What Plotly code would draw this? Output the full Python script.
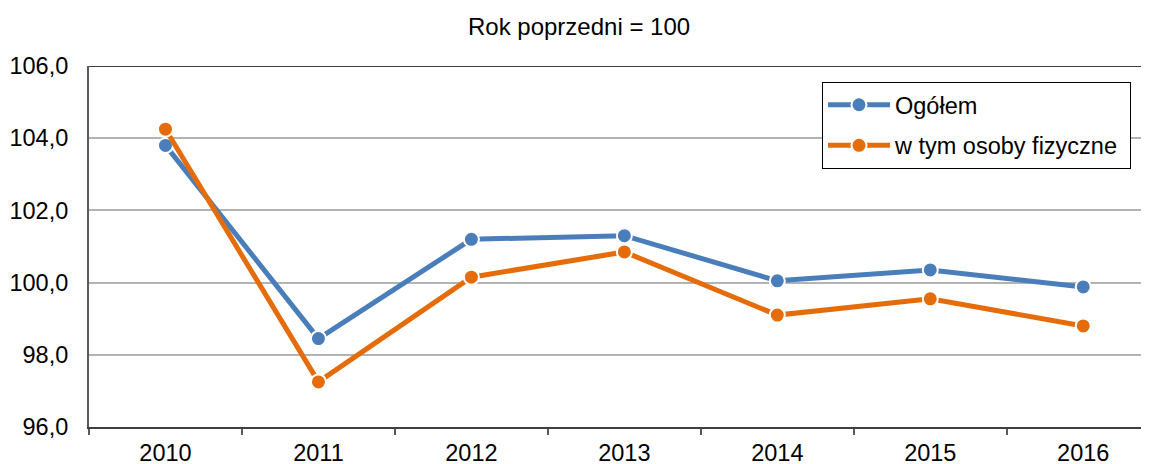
import plotly.graph_objects as go

years = ["2010", "2011", "2012", "2013", "2014", "2015", "2016"]
ogolem = [103.8, 98.45, 101.2, 101.3, 100.05, 100.35, 99.88]
osoby_fizyczne = [104.25, 97.25, 100.15, 100.85, 99.1, 99.55, 98.8]
y_ticks = [96, 98, 100, 102, 104, 106]
y_labels = ["96,0", "98,0", "100,0", "102,0", "104,0", "106,0"]
series_names = ["Ogółem", "w tym osoby fizyczne"]

FONT = "Liberation Sans, Arial, sans-serif"
BLUE = "#4a7ebb"
ORANGE = "#e46c0a"
FS = 23.5

fig = go.Figure()
for i, (name, vals, col) in enumerate([(series_names[0], ogolem, BLUE), (series_names[1], osoby_fizyczne, ORANGE)]):
    fig.add_trace(go.Scatter(
        x=years, y=vals, name=name + "&nbsp;", mode="lines+markers", legendgroup=f"g{i}",
        line=dict(color=col, width=5),
        marker=dict(size=15, color=col, line=dict(color="white", width=2)),
    ))

fig.update_layout(
    width=1149, height=464,
    margin=dict(l=81, r=8, t=58, b=45),
    paper_bgcolor="white", plot_bgcolor="white",
    font=dict(family=FONT, size=FS, color="#000000"),
    title=dict(text="Rok poprzedni = 100", x=0.497, xanchor="center", y=0.959, yanchor="middle",
               font=dict(family=FONT, size=24, color="#000000")),
    showlegend=True,
    legend=dict(x=0.6915, xanchor="left", y=0.9557, yanchor="top",
                bordercolor="#000000", borderwidth=1, bgcolor="white",
                font=dict(family=FONT, size=FS), itemwidth=62, tracegroupgap=7),
    xaxis=dict(type="category", range=[-0.5, 6.43], showgrid=False, automargin=False,
               showline=True, linecolor="#404040", linewidth=2,
               ticks="outside", tickson="boundaries", ticklen=6, tickcolor="#595959", tickwidth=2,
               ticklabelstandoff=4,
               tickfont=dict(family=FONT, size=FS)),
    yaxis=dict(range=[96, 106], tickvals=y_ticks, ticktext=y_labels, automargin=False,
               showgrid=True, gridcolor="#b3b3b3", gridwidth=1.5,
               showline=True, linecolor="#595959", linewidth=2, mirror=False,
               ticks="", ticklabelstandoff=14,
               tickfont=dict(family=FONT, size=FS), zeroline=False),
)
fig.add_shape(type="line", xref="paper", yref="y", x0=0, x1=1, y0=106, y1=106,
              line=dict(color="#404040", width=2))

fig.write_html("out.html")
